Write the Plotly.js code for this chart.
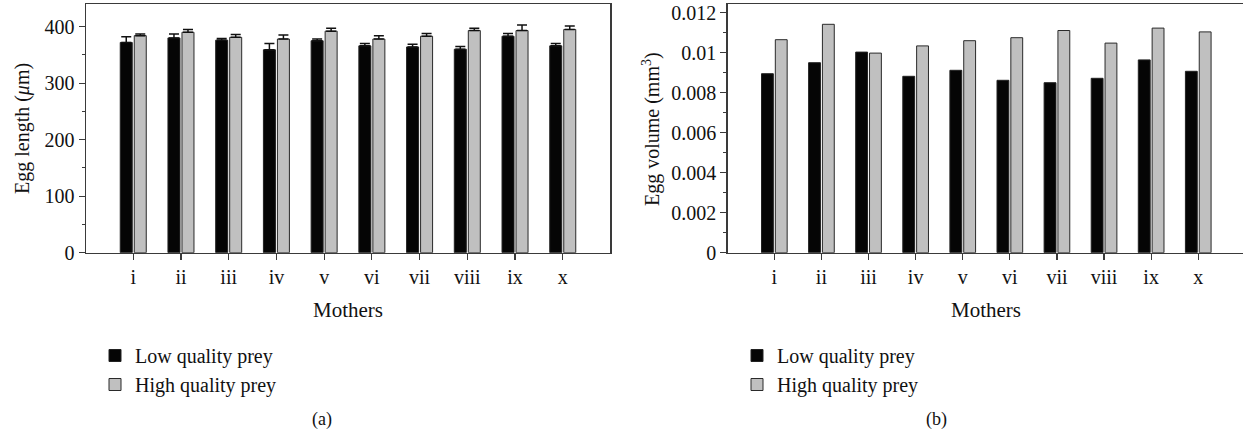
<!DOCTYPE html>
<html>
<head>
<meta charset="utf-8">
<script src="https://cdn.plot.ly/plotly-3.0.1.min.js"></script>
<style>html,body{margin:0;padding:0;background:#fff;}#chart{width:1243px;height:433px;}</style>
</head>
<body>
<div id="chart"></div>
<script>
// ---- data ----
const mothers = ['i','ii','iii','iv','v','vi','vii','viii','ix','x'];
const lengthLow = [372, 380, 376, 359, 375, 366, 364, 360, 383, 366];
const lengthLowErr = [10, 7, 3, 11, 3, 4, 5, 5, 5, 4];
const lengthHigh = [384, 390, 381, 378, 392, 378, 383, 393, 393, 395];
const lengthHighErr = [3, 5, 5, 7, 5, 6, 5, 4, 10, 6];
const volumeLow = [0.00895, 0.0095, 0.01003, 0.00882, 0.00912, 0.00862, 0.0085, 0.00872, 0.00964, 0.00907];
const volumeHigh = [0.01065, 0.01142, 0.00998, 0.01034, 0.0106, 0.01075, 0.01111, 0.01048, 0.01123, 0.01104];
const seriesNames = ['Low quality prey', 'High quality prey'];
const lengthTicks = [0, 100, 200, 300, 400];
const volumeTicks = [0, 0.002, 0.004, 0.006, 0.008, 0.01, 0.012];
const volumeTickText = ['0', '0.002', '0.004', '0.006', '0.008', '0.01', '0.012'];

const FONT = 'Liberation Serif, Times New Roman, serif';
const INK = '#111111';
const AX = '#3a3a3a';
const zeros = mothers.map(() => 0);

const lowStyle = {color: '#050505', line: {color: '#222222', width: 1}};
const highStyle = {color: '#c0c0c0', line: {color: '#2a2a2a', width: 1}};

const traces = [
  {type: 'bar', x: mothers, y: lengthLow, name: seriesNames[0], marker: lowStyle,
   xaxis: 'x', yaxis: 'y', legend: 'legend',
   error_y: {type: 'data', symmetric: false, array: lengthLowErr, arrayminus: zeros, color: '#111', thickness: 1.5, width: 5}},
  {type: 'bar', x: mothers, y: lengthHigh, name: seriesNames[1], marker: highStyle,
   xaxis: 'x', yaxis: 'y', legend: 'legend',
   error_y: {type: 'data', symmetric: false, array: lengthHighErr, arrayminus: zeros, color: '#111', thickness: 1.5, width: 5}},
  {type: 'bar', x: mothers, y: volumeLow, name: seriesNames[0], marker: lowStyle,
   xaxis: 'x2', yaxis: 'y2', legend: 'legend2'},
  {type: 'bar', x: mothers, y: volumeHigh, name: seriesNames[1], marker: highStyle,
   xaxis: 'x2', yaxis: 'y2', legend: 'legend2'}
];

const W = 1243, H = 433;
const px = v => v / W, py = v => 1 - v / H;

const xBase = {
  type: 'category', showline: true, linecolor: AX, linewidth: 1.5, mirror: true,
  ticks: 'outside', ticklen: 6, tickwidth: 1.2, tickcolor: AX, showgrid: false, zeroline: false,
  tickfont: {family: FONT, size: 20, color: INK}, fixedrange: true
};
const yBase = {
  showline: true, linecolor: AX, linewidth: 1.5, mirror: true,
  ticks: 'outside', ticklen: 6, tickwidth: 1.2, tickcolor: AX, showgrid: false, zeroline: false,
  tickfont: {family: FONT, size: 20, color: INK}, fixedrange: true
};

const layout = {
  width: W, height: H,
  margin: {l: 0, r: 0, t: 0, b: 0},
  paper_bgcolor: '#fff', plot_bgcolor: '#fff',
  barmode: 'group', bargap: 0.413, bargroupgap: 0.143,
  font: {family: FONT, color: INK, size: 20},
  xaxis: Object.assign({}, xBase, {domain: [px(86), px(610)], range: [-0.99, 9.99], anchor: 'y'}),
  yaxis: Object.assign({}, yBase, {domain: [py(252.7), py(4)], range: [0, 440], tickvals: lengthTicks,
    minor: {dtick: 50, ticks: 'outside', ticklen: 3, tickcolor: AX, tickwidth: 1, showgrid: false}, anchor: 'x'}),
  xaxis2: Object.assign({}, xBase, {domain: [px(727.7), 1], range: [-0.99, 9.95], anchor: 'y2'}),
  yaxis2: Object.assign({}, yBase, {domain: [py(252.7), py(4)], range: [0, 0.012435], tickvals: volumeTicks, ticktext: volumeTickText,
    minor: {dtick: 0.001, ticks: 'outside', ticklen: 3, tickcolor: AX, tickwidth: 1, showgrid: false}, anchor: 'x2'}),
  legend: {x: px(95), y: py(336), xanchor: 'left', yanchor: 'top', bgcolor: 'rgba(0,0,0,0)',
    font: {family: FONT, size: 20, color: INK}, traceorder: 'normal', itemwidth: 30, tracegroupgap: 0},
  legend2: {x: px(737), y: py(336), xanchor: 'left', yanchor: 'top', bgcolor: 'rgba(0,0,0,0)',
    font: {family: FONT, size: 20, color: INK}, traceorder: 'normal', itemwidth: 30, tracegroupgap: 0},
  showlegend: true,
  annotations: [
    {text: 'Egg length (<i>μ</i>m)', xref: 'paper', yref: 'paper', x: px(22), y: py(129), textangle: -90,
     showarrow: false, xanchor: 'center', yanchor: 'middle', font: {family: FONT, size: 20, color: INK}},
    {text: 'Egg volume (mm<sup>3</sup>)', xref: 'paper', yref: 'paper', x: px(651), y: py(129), textangle: -90,
     showarrow: false, xanchor: 'center', yanchor: 'middle', font: {family: FONT, size: 20, color: INK}},
    {text: 'Mothers', xref: 'paper', yref: 'paper', x: px(348), y: py(310), showarrow: false,
     xanchor: 'center', yanchor: 'middle', font: {family: FONT, size: 21, color: INK}},
    {text: 'Mothers', xref: 'paper', yref: 'paper', x: px(986), y: py(310), showarrow: false,
     xanchor: 'center', yanchor: 'middle', font: {family: FONT, size: 21, color: INK}},
    {text: '(a)', xref: 'paper', yref: 'paper', x: px(322), y: py(419), showarrow: false,
     xanchor: 'center', yanchor: 'middle', font: {family: FONT, size: 18, color: INK}},
    {text: '(b)', xref: 'paper', yref: 'paper', x: px(936.5), y: py(419), showarrow: false,
     xanchor: 'center', yanchor: 'middle', font: {family: FONT, size: 18, color: INK}}
  ]
};

Plotly.newPlot('chart', traces, layout, {displayModeBar: false, staticPlot: true});
</script>
</body>
</html>
